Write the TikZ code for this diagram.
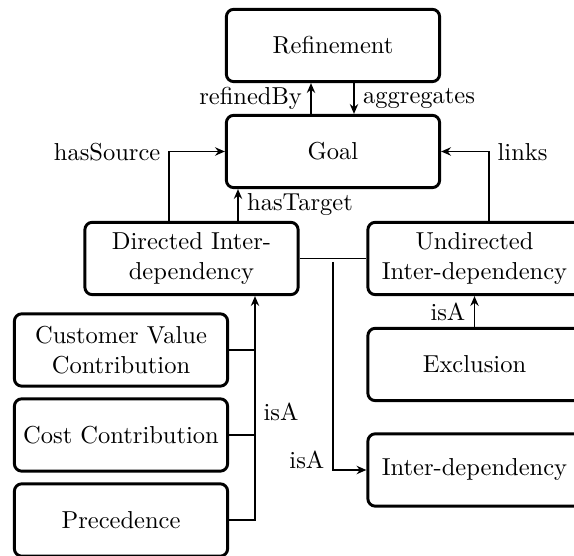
\documentclass[tikz,border=0pt]{standalone}
\usetikzlibrary{arrows.meta}
\begin{document}
\begin{tikzpicture}[x=0.408pt,y=-0.408pt,
  box/.style={draw,very thick,rounded corners=3pt,align=center,
    minimum width=87pt,minimum height=29.5pt,inner sep=2pt},
  conn/.style={thick},
  arr/.style={thick,-{Stealth[length=4pt,width=3.4pt]}},
  lbl/.style={inner sep=3.33pt}]
\useasboundingbox (0,0) rectangle (574,556);

% class boxes
\node[box] (ref)  at (333,45.5)   {Refinement};
\node[box] (goal) at (333,151.5)  {Goal};
\node[box] (dir)  at (191.5,258.5) {Directed Inter-\\dependency};
\node[box] (und)  at (474.5,258.5) {Undirected\\Inter-dependency};
\node[box] (cv)   at (121,350)    {Customer Value\\Contribution};
\node[box] (cost) at (121,435)    {Cost Contribution};
\node[box] (prec) at (121,520)    {Precedence};
\node[box] (excl) at (474.5,364.5) {Exclusion};
\node[box] (inter) at (474.5,470) {Inter-dependency};

% helper points for the routed connectors
\coordinate (rb)   at (311,0);
\coordinate (ag)   at (354,0);
\coordinate (ht)   at (238,0);
\coordinate (src)  at (169,152);
\coordinate (lnk)  at (489,152);
\coordinate (bus)  at (255,520);
\coordinate (split) at (333,262);

% refinement relations
\draw[arr] (goal.north -| rb) -- node[lbl,left] {refinedBy} (ref.south -| rb);
\draw[arr] (ref.south -| ag) -- node[lbl,right] {aggregates} (goal.north -| ag);

% goal links
\draw[arr] (dir.north -| src) |- (goal.west);
\node[lbl,left] at (src) {hasSource};
\draw[arr] (dir.north -| ht) -- node[lbl,right] {hasTarget} (goal.south -| ht);
\draw[arr] (und.north -| lnk) |- (goal.east);
\node[lbl,right] at (lnk) {links};

% specialisations of directed inter-dependencies
\draw[conn] (cv.east) -- (cv.east -| bus);
\draw[conn] (cost.east) -- (cost.east -| bus);
\draw[arr] (prec.east) -| (dir.south -| bus);
\node[lbl,right] at (255,412) {isA};

% undirected specialisation
\draw[arr] (excl.north) -- node[lbl,left] {isA} (und.south);

% both kinds are inter-dependencies
\draw[conn] (dir.east) -- (und.west);
\draw[arr] (split) |- (inter.west);
\node[lbl,left] at (333,460) {isA};
\end{tikzpicture}
\end{document}
